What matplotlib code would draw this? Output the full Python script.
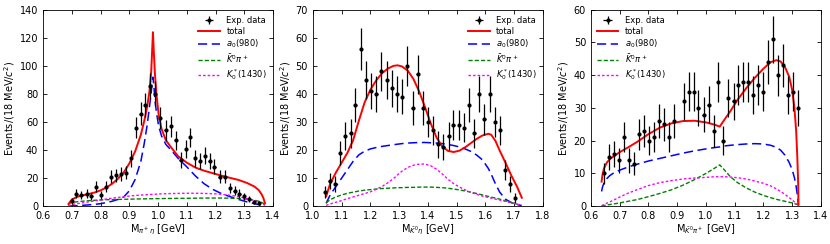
import numpy as np
import matplotlib
matplotlib.use("Agg")
from matplotlib import pyplot as plt

# ---------------- panel 1 : M(pi+ eta)
x1 = [0.700, 0.716, 0.733, 0.751, 0.768, 0.784, 0.801, 0.818, 0.837, 0.854,
      0.871, 0.889, 0.906, 0.922, 0.939, 0.956, 0.973, 0.990, 1.007, 1.026,
      1.044, 1.061, 1.078, 1.096, 1.111, 1.128, 1.145, 1.162, 1.179, 1.196,
      1.214, 1.231, 1.250, 1.266, 1.283, 1.300, 1.316, 1.333, 1.351]
y1 = [4, 9, 8, 9, 7, 14, 8, 14, 21, 22,
      23, 24, 34, 56, 66, 72, 86, 80, 63, 54,
      57, 47, 33, 41, 49, 34, 32, 36, 32, 28,
      21, 21, 13, 11, 9, 7, 5, 3, 2]

c1_x = [0.688, 0.695, 0.700, 0.720, 0.750, 0.780, 0.800, 0.820, 0.840, 0.860,
        0.880, 0.900, 0.920, 0.940, 0.952, 0.962, 0.970, 0.976, 0.979, 0.982,
        0.985, 0.989, 0.994, 1.002, 1.012, 1.027, 1.045, 1.070, 1.100, 1.130,
        1.160, 1.190, 1.220, 1.250, 1.280, 1.310, 1.335, 1.350, 1.360, 1.366,
        1.372]
tot1 = [1.5, 3.5, 4.8, 6.8, 8.3, 9.8, 11.3, 13.3, 16.0, 19.5,
        24.0, 30.5, 39.0, 51.0, 61.0, 71.0, 82.0, 96.0, 110.0, 124.0,
        110.0, 94.0, 80.0, 65.0, 55.0, 47.0, 42.0, 35.5, 31.0, 27.5,
        25.3, 23.5, 21.8, 20.2, 18.7, 16.5, 14.0, 11.5, 8.5, 6.0,
        2.0]
a0_1 = [0.0, 0.1, 0.2, 0.4, 0.8, 1.3, 1.8, 2.6, 3.5, 4.8,
        6.5, 11.0, 19.0, 32.0, 45.0, 58.0, 71.0, 81.0, 88.0, 92.0,
        86.0, 76.0, 67.0, 57.0, 50.0, 44.0, 40.0, 34.0, 28.0, 21.5,
        16.0, 12.0, 9.0, 6.8, 4.8, 3.0, 1.8, 1.1, 0.6, 0.3,
        0.0]
kpi_1 = [1.5, 2.3, 2.7, 3.2, 3.8, 4.2, 4.4, 4.6, 4.7, 4.8,
         4.9, 5.0, 5.1, 5.2, 5.2, 5.3, 5.3, 5.3, 5.3, 5.3,
         5.3, 5.3, 5.4, 5.4, 5.4, 5.5, 5.5, 5.6, 5.6, 5.7,
         5.8, 5.8, 5.8, 5.7, 5.5, 5.0, 4.3, 3.5, 2.8, 2.0,
         1.0]
k0s_1 = [0.3, 0.8, 1.2, 1.8, 2.8, 3.8, 4.5, 5.1, 5.7, 6.2,
         6.7, 7.2, 7.6, 7.9, 8.1, 8.2, 8.3, 8.4, 8.4, 8.5,
         8.5, 8.5, 8.6, 8.7, 8.8, 8.9, 9.0, 9.1, 9.2, 9.2,
         9.1, 8.9, 8.5, 7.8, 6.8, 5.3, 4.0, 3.0, 2.0, 1.3,
         0.5]

# ---------------- panel 2 : M(K0bar eta)
x2 = [1.041, 1.058, 1.077, 1.095, 1.112, 1.131, 1.148, 1.167, 1.185, 1.202,
      1.221, 1.238, 1.257, 1.275, 1.292, 1.311, 1.328, 1.347, 1.364, 1.382,
      1.400, 1.418, 1.436, 1.454, 1.472, 1.489, 1.508, 1.526, 1.543, 1.562,
      1.579, 1.597, 1.616, 1.633, 1.651, 1.668, 1.687, 1.704]
y2 = [5, 9, 8, 19, 25, 26, 36, 56, 45, 41,
      40, 48, 45, 42, 40, 39, 50, 35, 47, 35,
      30, 27, 22, 21, 25, 29, 29, 28, 36, 26,
      40, 31, 40, 30, 27, 13, 8, 3]

c2_x = [1.046, 1.060, 1.080, 1.100, 1.120, 1.140, 1.160, 1.180, 1.200, 1.220,
        1.240, 1.260, 1.280, 1.295, 1.310, 1.330, 1.350, 1.370, 1.390, 1.410,
        1.430, 1.450, 1.470, 1.490, 1.510, 1.530, 1.550, 1.570, 1.590, 1.610,
        1.620, 1.635, 1.650, 1.670, 1.690, 1.710, 1.727]
tot2 = [3.5, 8.0, 12.0, 15.5, 19.0, 23.5, 30.5, 37.0, 41.5, 44.8,
        47.3, 49.0, 50.0, 50.2, 49.8, 48.3, 45.3, 40.8, 35.3, 29.5,
        24.5, 21.3, 19.7, 19.3, 19.8, 21.0, 22.5, 24.0, 25.2, 25.8,
        25.5, 23.3, 19.8, 15.5, 11.0, 7.0, 3.0]
a0_2 = [1.0, 4.0, 7.0, 10.0, 13.0, 16.0, 18.3, 19.6, 20.4, 20.9,
        21.3, 21.6, 21.9, 22.1, 22.3, 22.5, 22.6, 22.7, 22.7, 22.6,
        22.5, 22.3, 22.0, 21.6, 21.1, 20.4, 19.5, 18.2, 16.5, 13.5,
        11.5, 8.0, 5.0, 2.5, 1.3, 0.6, 0.2]
kpi_2 = [1.2, 2.3, 3.3, 4.0, 4.6, 5.0, 5.4, 5.7, 5.9, 6.1,
         6.3, 6.4, 6.5, 6.6, 6.6, 6.7, 6.7, 6.8, 6.8, 6.8,
         6.7, 6.6, 6.4, 6.1, 5.8, 5.4, 5.0, 4.5, 4.0, 3.5,
         3.2, 2.9, 2.5, 1.9, 1.3, 0.7, 0.2]
k0s_2 = [0.3, 0.8, 1.4, 2.0, 2.7, 3.3, 3.9, 4.5, 5.1, 6.0,
         7.0, 8.3, 9.8, 11.2, 12.5, 13.8, 14.6, 15.0, 15.0, 14.4,
         13.2, 11.5, 9.6, 8.0, 6.8, 5.8, 4.9, 4.2, 3.6, 3.1,
         2.9, 2.5, 2.2, 1.7, 1.2, 0.7, 0.2]

# ---------------- panel 3 : M(K0bar pi+)
x3 = [0.646, 0.664, 0.681, 0.697, 0.715, 0.733, 0.751, 0.768, 0.785, 0.803,
      0.820, 0.838, 0.855, 0.872, 0.889, 0.923, 0.940, 0.958, 0.974, 0.992,
      1.009, 1.027, 1.043, 1.061, 1.078, 1.096, 1.112, 1.130, 1.148, 1.165,
      1.182, 1.199, 1.217, 1.233, 1.251, 1.268, 1.285, 1.302, 1.320]
y3 = [10, 15, 16, 14, 21, 14, 13, 22, 23, 20,
      21, 26, 25, 21, 26, 32, 35, 35, 30, 28,
      31, 23, 38, 20, 33, 32, 37, 38, 38, 34,
      37, 35, 44, 51, 40, 43, 34, 35, 30]

c3_x = [0.637, 0.640, 0.645, 0.655, 0.665, 0.680, 0.700, 0.730, 0.760, 0.800,
        0.840, 0.880, 0.920, 0.960, 1.000, 1.030, 1.048, 1.065, 1.085, 1.110,
        1.140, 1.170, 1.200, 1.225, 1.245, 1.260, 1.275, 1.290, 1.300, 1.308,
        1.314, 1.318, 1.321, 1.322]
tot3 = [7.5, 9.5, 11.5, 13.3, 14.3, 15.3, 16.5, 18.0, 19.6, 22.0,
        24.0, 25.3, 26.0, 26.1, 25.6, 24.9, 24.3, 26.5, 29.0, 32.5,
        36.0, 39.2, 42.0, 44.0, 44.6, 44.2, 42.5, 39.5, 35.5, 30.0,
        23.0, 15.0, 7.0, 0.5]
a0_3 = [4.5, 5.8, 7.0, 8.4, 9.3, 10.2, 11.0, 12.0, 12.8, 13.8,
        14.6, 15.4, 16.2, 16.9, 17.5, 17.9, 18.1, 18.4, 18.6, 18.8,
        19.0, 19.1, 19.0, 18.6, 18.0, 17.1, 15.6, 13.3, 11.2, 8.7,
        6.0, 3.5, 1.3, 0.2]
kpi_3 = [0.0, 0.1, 0.2, 0.3, 0.5, 0.7, 1.0, 1.5, 2.0, 2.9,
         3.9, 5.0, 6.4, 8.1, 10.0, 11.6, 12.6, 11.0, 9.0, 7.2,
         5.6, 4.3, 3.3, 2.6, 2.1, 1.8, 1.5, 1.2, 1.0, 0.8,
         0.6, 0.5, 0.4, 0.3]
k0s_3 = [0.2, 0.3, 0.5, 0.9, 1.3, 1.9, 2.8, 4.0, 5.0, 6.3,
         7.2, 7.8, 8.3, 8.6, 8.8, 9.0, 9.0, 9.0, 8.9, 8.7,
         8.3, 7.7, 7.0, 6.2, 5.3, 4.5, 3.6, 2.6, 1.9, 1.3,
         0.9, 0.6, 0.4, 0.3]

xlabels = [r'M$_{\pi^+\eta}$ [GeV]', r'M$_{\bar{K}^0\eta}$ [GeV]', r'M$_{\bar{K}^0\pi^+}$ [GeV]']
xlims = [(0.6, 1.4), (1.0, 1.8), (0.6, 1.4)]
ylims = [(0, 140), (0, 70), (0, 60)]
yticks = [np.arange(0, 141, 20), np.arange(0, 71, 10), np.arange(0, 61, 10)]
legend_loc = ['upper right', 'upper right', 'upper left']

panels = [
    (x1, y1, c1_x, tot1, a0_1, kpi_1, k0s_1),
    (x2, y2, c2_x, tot2, a0_2, kpi_2, k0s_2),
    (x3, y3, c3_x, tot3, a0_3, kpi_3, k0s_3),
]

fig = plt.figure(figsize=(8.3, 2.44), dpi=100)
lefts = [0.052, 0.377, 0.712]

for i, (xd, yd, cx, tot, a0, kpi, k0s) in enumerate(panels):
    ax = fig.add_axes([lefts[i], 0.155, 0.277, 0.805])
    yd = np.array(yd, dtype=float)
    eb = ax.errorbar(xd, yd, yerr=np.sqrt(yd), xerr=0.004, fmt='o', color='black',
                     ms=2, elinewidth=0.9, capsize=0, label='Exp. data', zorder=5)
    l1, = ax.plot(cx, tot, color='red', lw=1.4, label='total', zorder=4)
    l2, = ax.plot(cx, a0, color='blue', lw=1.1, ls=(0, (6, 3)), label=r'$a_0(980)$', zorder=3)
    l3, = ax.plot(cx, kpi, color='green', lw=1.0, ls=(0, (3, 1.5)), label=r'$\bar{K}^0\pi^+$', zorder=3)
    l4, = ax.plot(cx, k0s, color='magenta', lw=1.0, ls=(0, (1.8, 1.5)), label=r'$K_0^*(1430)$', zorder=3)

    ax.set_xlim(*xlims[i])
    ax.set_ylim(*ylims[i])
    ax.set_xticks(np.round(np.arange(xlims[i][0], xlims[i][1] + 0.01, 0.1), 1))
    ax.set_yticks(yticks[i])
    ax.tick_params(direction='in', top=True, right=True, labelsize=7, length=3, width=0.6)
    for s in ax.spines.values():
        s.set_linewidth(0.6)
    ax.set_xlabel(xlabels[i], fontsize=7, labelpad=1)
    ax.set_ylabel(r'Events/(18 MeV/$c^2$)', fontsize=7, labelpad=2)
    ax.legend([eb, l1, l2, l3, l4], ['Exp. data', 'total', r'$a_0(980)$', r'$\bar{K}^0\pi^+$', r'$K_0^*(1430)$'],
              loc=legend_loc[i], frameon=False, fontsize=6, handlelength=2.6,
              labelspacing=0.25, borderaxespad=0.3)

plt.savefig('out.png', dpi=100)
